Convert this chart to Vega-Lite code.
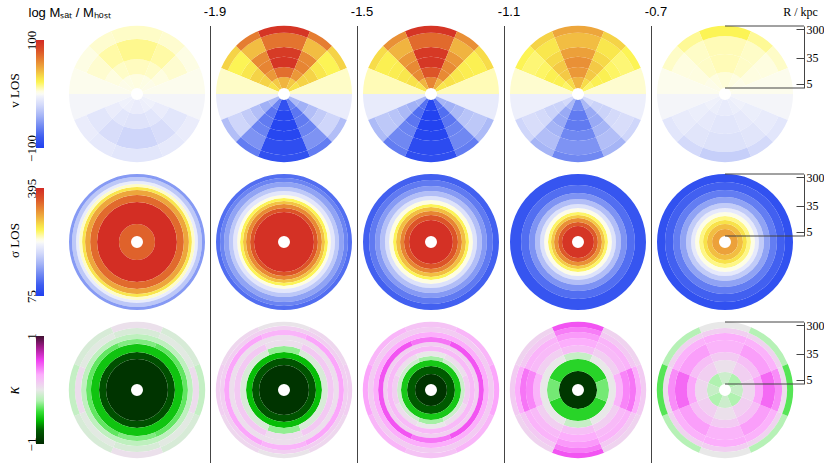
{
"$schema":"https://vega.github.io/schema/vega-lite/v6.json",
"padding":0,
"bounds":"flush",
"spacing":0,
"background":"white",
"config":{"view":{"stroke":null}},
"datasets":{
"vl":[
{"p":"ref","a":-22.5,"b":22.5,"r":3.7,"s":10.5,"v":5},{"p":"ref","a":-22.5,"b":22.5,"r":10.5,"s":32,"v":9},{"p":"ref","a":-22.5,"b":22.5,"r":32,"s":143,"v":15},{"p":"ref","a":-22.5,"b":22.5,"r":143,"s":383,"v":8},
{"p":"ref","a":22.5,"b":45,"r":3.7,"s":10.5,"v":4},{"p":"ref","a":22.5,"b":45,"r":10.5,"s":32,"v":8},{"p":"ref","a":22.5,"b":45,"r":32,"s":143,"v":12},{"p":"ref","a":22.5,"b":45,"r":143,"s":383,"v":7},
{"p":"ref","a":315,"b":337.5,"r":3.7,"s":10.5,"v":4},{"p":"ref","a":315,"b":337.5,"r":10.5,"s":32,"v":8},{"p":"ref","a":315,"b":337.5,"r":32,"s":143,"v":12},{"p":"ref","a":315,"b":337.5,"r":143,"s":383,"v":7},
{"p":"ref","a":45,"b":67.5,"r":3.7,"s":10.5,"v":3},{"p":"ref","a":45,"b":67.5,"r":10.5,"s":32,"v":5},{"p":"ref","a":45,"b":67.5,"r":32,"s":143,"v":7},{"p":"ref","a":45,"b":67.5,"r":143,"s":383,"v":4},
{"p":"ref","a":292.5,"b":315,"r":3.7,"s":10.5,"v":3},{"p":"ref","a":292.5,"b":315,"r":10.5,"s":32,"v":5},{"p":"ref","a":292.5,"b":315,"r":32,"s":143,"v":7},{"p":"ref","a":292.5,"b":315,"r":143,"s":383,"v":4},
{"p":"ref","a":67.5,"b":90,"r":3.7,"s":383,"v":2},{"p":"ref","a":270,"b":292.5,"r":3.7,"s":383,"v":2},
{"p":"ref","a":90,"b":112.5,"r":3.7,"s":383,"v":-3},{"p":"ref","a":247.5,"b":270,"r":3.7,"s":383,"v":-3},
{"p":"ref","a":112.5,"b":135,"r":3.7,"s":10.5,"v":-5},{"p":"ref","a":112.5,"b":135,"r":10.5,"s":32,"v":-8},{"p":"ref","a":112.5,"b":135,"r":32,"s":143,"v":-12},{"p":"ref","a":112.5,"b":135,"r":143,"s":383,"v":-8},
{"p":"ref","a":225,"b":247.5,"r":3.7,"s":10.5,"v":-5},{"p":"ref","a":225,"b":247.5,"r":10.5,"s":32,"v":-8},{"p":"ref","a":225,"b":247.5,"r":32,"s":143,"v":-12},{"p":"ref","a":225,"b":247.5,"r":143,"s":383,"v":-8},
{"p":"ref","a":135,"b":157.5,"r":3.7,"s":10.5,"v":-6},{"p":"ref","a":135,"b":157.5,"r":10.5,"s":32,"v":-12},{"p":"ref","a":135,"b":157.5,"r":32,"s":143,"v":-18},{"p":"ref","a":135,"b":157.5,"r":143,"s":383,"v":-10},
{"p":"ref","a":202.5,"b":225,"r":3.7,"s":10.5,"v":-6},{"p":"ref","a":202.5,"b":225,"r":10.5,"s":32,"v":-12},{"p":"ref","a":202.5,"b":225,"r":32,"s":143,"v":-18},{"p":"ref","a":202.5,"b":225,"r":143,"s":383,"v":-10},
{"p":"ref","a":157.5,"b":202.5,"r":3.7,"s":10.5,"v":-8},{"p":"ref","a":157.5,"b":202.5,"r":10.5,"s":32,"v":-14},{"p":"ref","a":157.5,"b":202.5,"r":32,"s":143,"v":-22},{"p":"ref","a":157.5,"b":202.5,"r":143,"s":383,"v":-12},

{"p":"-1.9","a":-22.5,"b":22.5,"r":3.7,"s":8.4,"v":45},{"p":"-1.9","a":-22.5,"b":22.5,"r":8.4,"s":17.8,"v":70},{"p":"-1.9","a":-22.5,"b":22.5,"r":17.8,"s":37.8,"v":95},{"p":"-1.9","a":-22.5,"b":22.5,"r":37.8,"s":79,"v":92},{"p":"-1.9","a":-22.5,"b":22.5,"r":79,"s":226,"v":68},{"p":"-1.9","a":-22.5,"b":22.5,"r":226,"s":383,"v":95},
{"p":"-1.9","a":22.5,"b":45,"r":3.7,"s":8.4,"v":38},{"p":"-1.9","a":22.5,"b":45,"r":8.4,"s":17.8,"v":55},{"p":"-1.9","a":22.5,"b":45,"r":17.8,"s":37.8,"v":62},{"p":"-1.9","a":22.5,"b":45,"r":37.8,"s":79,"v":60},{"p":"-1.9","a":22.5,"b":45,"r":79,"s":226,"v":42},{"p":"-1.9","a":22.5,"b":45,"r":226,"s":383,"v":65},
{"p":"-1.9","a":315,"b":337.5,"r":3.7,"s":8.4,"v":38},{"p":"-1.9","a":315,"b":337.5,"r":8.4,"s":17.8,"v":55},{"p":"-1.9","a":315,"b":337.5,"r":17.8,"s":37.8,"v":62},{"p":"-1.9","a":315,"b":337.5,"r":37.8,"s":79,"v":60},{"p":"-1.9","a":315,"b":337.5,"r":79,"s":226,"v":42},{"p":"-1.9","a":315,"b":337.5,"r":226,"s":383,"v":65},
{"p":"-1.9","a":45,"b":67.5,"r":3.7,"s":8.4,"v":30},{"p":"-1.9","a":45,"b":67.5,"r":8.4,"s":17.8,"v":35},{"p":"-1.9","a":45,"b":67.5,"r":17.8,"s":37.8,"v":35},{"p":"-1.9","a":45,"b":67.5,"r":37.8,"s":79,"v":28},{"p":"-1.9","a":45,"b":67.5,"r":79,"s":226,"v":22},{"p":"-1.9","a":45,"b":67.5,"r":226,"s":383,"v":35},
{"p":"-1.9","a":292.5,"b":315,"r":3.7,"s":8.4,"v":30},{"p":"-1.9","a":292.5,"b":315,"r":8.4,"s":17.8,"v":35},{"p":"-1.9","a":292.5,"b":315,"r":17.8,"s":37.8,"v":35},{"p":"-1.9","a":292.5,"b":315,"r":37.8,"s":79,"v":28},{"p":"-1.9","a":292.5,"b":315,"r":79,"s":226,"v":22},{"p":"-1.9","a":292.5,"b":315,"r":226,"s":383,"v":35},
{"p":"-1.9","a":67.5,"b":90,"r":3.7,"s":383,"v":8},{"p":"-1.9","a":270,"b":292.5,"r":3.7,"s":383,"v":8},
{"p":"-1.9","a":90,"b":112.5,"r":3.7,"s":383,"v":-8},{"p":"-1.9","a":247.5,"b":270,"r":3.7,"s":383,"v":-8},
{"p":"-1.9","a":112.5,"b":135,"r":3.7,"s":8.4,"v":-38},{"p":"-1.9","a":112.5,"b":135,"r":8.4,"s":17.8,"v":-42},{"p":"-1.9","a":112.5,"b":135,"r":17.8,"s":37.8,"v":-35},{"p":"-1.9","a":112.5,"b":135,"r":37.8,"s":79,"v":-28},{"p":"-1.9","a":112.5,"b":135,"r":79,"s":226,"v":-22},{"p":"-1.9","a":112.5,"b":135,"r":226,"s":383,"v":-35},
{"p":"-1.9","a":225,"b":247.5,"r":3.7,"s":8.4,"v":-38},{"p":"-1.9","a":225,"b":247.5,"r":8.4,"s":17.8,"v":-42},{"p":"-1.9","a":225,"b":247.5,"r":17.8,"s":37.8,"v":-35},{"p":"-1.9","a":225,"b":247.5,"r":37.8,"s":79,"v":-28},{"p":"-1.9","a":225,"b":247.5,"r":79,"s":226,"v":-22},{"p":"-1.9","a":225,"b":247.5,"r":226,"s":383,"v":-35},
{"p":"-1.9","a":135,"b":157.5,"r":3.7,"s":8.4,"v":-62},{"p":"-1.9","a":135,"b":157.5,"r":8.4,"s":17.8,"v":-68},{"p":"-1.9","a":135,"b":157.5,"r":17.8,"s":37.8,"v":-66},{"p":"-1.9","a":135,"b":157.5,"r":37.8,"s":79,"v":-62},{"p":"-1.9","a":135,"b":157.5,"r":79,"s":226,"v":-55},{"p":"-1.9","a":135,"b":157.5,"r":226,"s":383,"v":-65},
{"p":"-1.9","a":202.5,"b":225,"r":3.7,"s":8.4,"v":-62},{"p":"-1.9","a":202.5,"b":225,"r":8.4,"s":17.8,"v":-68},{"p":"-1.9","a":202.5,"b":225,"r":17.8,"s":37.8,"v":-66},{"p":"-1.9","a":202.5,"b":225,"r":37.8,"s":79,"v":-62},{"p":"-1.9","a":202.5,"b":225,"r":79,"s":226,"v":-55},{"p":"-1.9","a":202.5,"b":225,"r":226,"s":383,"v":-65},
{"p":"-1.9","a":157.5,"b":202.5,"r":3.7,"s":8.4,"v":-88},{"p":"-1.9","a":157.5,"b":202.5,"r":8.4,"s":17.8,"v":-95},{"p":"-1.9","a":157.5,"b":202.5,"r":17.8,"s":37.8,"v":-96},{"p":"-1.9","a":157.5,"b":202.5,"r":37.8,"s":79,"v":-95},{"p":"-1.9","a":157.5,"b":202.5,"r":79,"s":226,"v":-90},{"p":"-1.9","a":157.5,"b":202.5,"r":226,"s":383,"v":-88},

{"p":"-1.5","a":-22.5,"b":22.5,"r":3.7,"s":8.4,"v":62},{"p":"-1.5","a":-22.5,"b":22.5,"r":8.4,"s":17.8,"v":80},{"p":"-1.5","a":-22.5,"b":22.5,"r":17.8,"s":37.8,"v":94},{"p":"-1.5","a":-22.5,"b":22.5,"r":37.8,"s":79,"v":93},{"p":"-1.5","a":-22.5,"b":22.5,"r":79,"s":226,"v":72},{"p":"-1.5","a":-22.5,"b":22.5,"r":226,"s":383,"v":95},
{"p":"-1.5","a":22.5,"b":45,"r":3.7,"s":8.4,"v":45},{"p":"-1.5","a":22.5,"b":45,"r":8.4,"s":17.8,"v":60},{"p":"-1.5","a":22.5,"b":45,"r":17.8,"s":37.8,"v":60},{"p":"-1.5","a":22.5,"b":45,"r":37.8,"s":79,"v":55},{"p":"-1.5","a":22.5,"b":45,"r":79,"s":226,"v":45},{"p":"-1.5","a":22.5,"b":45,"r":226,"s":383,"v":58},
{"p":"-1.5","a":315,"b":337.5,"r":3.7,"s":8.4,"v":45},{"p":"-1.5","a":315,"b":337.5,"r":8.4,"s":17.8,"v":60},{"p":"-1.5","a":315,"b":337.5,"r":17.8,"s":37.8,"v":60},{"p":"-1.5","a":315,"b":337.5,"r":37.8,"s":79,"v":55},{"p":"-1.5","a":315,"b":337.5,"r":79,"s":226,"v":45},{"p":"-1.5","a":315,"b":337.5,"r":226,"s":383,"v":58},
{"p":"-1.5","a":45,"b":67.5,"r":3.7,"s":8.4,"v":28},{"p":"-1.5","a":45,"b":67.5,"r":8.4,"s":17.8,"v":30},{"p":"-1.5","a":45,"b":67.5,"r":17.8,"s":37.8,"v":28},{"p":"-1.5","a":45,"b":67.5,"r":37.8,"s":79,"v":25},{"p":"-1.5","a":45,"b":67.5,"r":79,"s":226,"v":24},{"p":"-1.5","a":45,"b":67.5,"r":226,"s":383,"v":32},
{"p":"-1.5","a":292.5,"b":315,"r":3.7,"s":8.4,"v":28},{"p":"-1.5","a":292.5,"b":315,"r":8.4,"s":17.8,"v":30},{"p":"-1.5","a":292.5,"b":315,"r":17.8,"s":37.8,"v":28},{"p":"-1.5","a":292.5,"b":315,"r":37.8,"s":79,"v":25},{"p":"-1.5","a":292.5,"b":315,"r":79,"s":226,"v":24},{"p":"-1.5","a":292.5,"b":315,"r":226,"s":383,"v":32},
{"p":"-1.5","a":67.5,"b":90,"r":3.7,"s":383,"v":10},{"p":"-1.5","a":270,"b":292.5,"r":3.7,"s":383,"v":10},
{"p":"-1.5","a":90,"b":112.5,"r":3.7,"s":383,"v":-9},{"p":"-1.5","a":247.5,"b":270,"r":3.7,"s":383,"v":-9},
{"p":"-1.5","a":112.5,"b":135,"r":3.7,"s":8.4,"v":-40},{"p":"-1.5","a":112.5,"b":135,"r":8.4,"s":17.8,"v":-42},{"p":"-1.5","a":112.5,"b":135,"r":17.8,"s":37.8,"v":-38},{"p":"-1.5","a":112.5,"b":135,"r":37.8,"s":79,"v":-32},{"p":"-1.5","a":112.5,"b":135,"r":79,"s":226,"v":-30},{"p":"-1.5","a":112.5,"b":135,"r":226,"s":383,"v":-37},
{"p":"-1.5","a":225,"b":247.5,"r":3.7,"s":8.4,"v":-40},{"p":"-1.5","a":225,"b":247.5,"r":8.4,"s":17.8,"v":-42},{"p":"-1.5","a":225,"b":247.5,"r":17.8,"s":37.8,"v":-38},{"p":"-1.5","a":225,"b":247.5,"r":37.8,"s":79,"v":-32},{"p":"-1.5","a":225,"b":247.5,"r":79,"s":226,"v":-30},{"p":"-1.5","a":225,"b":247.5,"r":226,"s":383,"v":-37},
{"p":"-1.5","a":135,"b":157.5,"r":3.7,"s":8.4,"v":-70},{"p":"-1.5","a":135,"b":157.5,"r":8.4,"s":17.8,"v":-72},{"p":"-1.5","a":135,"b":157.5,"r":17.8,"s":37.8,"v":-68},{"p":"-1.5","a":135,"b":157.5,"r":37.8,"s":79,"v":-62},{"p":"-1.5","a":135,"b":157.5,"r":79,"s":226,"v":-60},{"p":"-1.5","a":135,"b":157.5,"r":226,"s":383,"v":-65},
{"p":"-1.5","a":202.5,"b":225,"r":3.7,"s":8.4,"v":-70},{"p":"-1.5","a":202.5,"b":225,"r":8.4,"s":17.8,"v":-72},{"p":"-1.5","a":202.5,"b":225,"r":17.8,"s":37.8,"v":-68},{"p":"-1.5","a":202.5,"b":225,"r":37.8,"s":79,"v":-62},{"p":"-1.5","a":202.5,"b":225,"r":79,"s":226,"v":-60},{"p":"-1.5","a":202.5,"b":225,"r":226,"s":383,"v":-65},
{"p":"-1.5","a":157.5,"b":202.5,"r":3.7,"s":8.4,"v":-95},{"p":"-1.5","a":157.5,"b":202.5,"r":8.4,"s":17.8,"v":-98},{"p":"-1.5","a":157.5,"b":202.5,"r":17.8,"s":37.8,"v":-98},{"p":"-1.5","a":157.5,"b":202.5,"r":37.8,"s":79,"v":-96},{"p":"-1.5","a":157.5,"b":202.5,"r":79,"s":226,"v":-92},{"p":"-1.5","a":157.5,"b":202.5,"r":226,"s":383,"v":-90},

{"p":"-1.1","a":-22.5,"b":22.5,"r":3.7,"s":8.4,"v":45},{"p":"-1.1","a":-22.5,"b":22.5,"r":8.4,"s":17.8,"v":55},{"p":"-1.1","a":-22.5,"b":22.5,"r":17.8,"s":37.8,"v":58},{"p":"-1.1","a":-22.5,"b":22.5,"r":37.8,"s":79,"v":52},{"p":"-1.1","a":-22.5,"b":22.5,"r":79,"s":226,"v":42},{"p":"-1.1","a":-22.5,"b":22.5,"r":226,"s":383,"v":50},
{"p":"-1.1","a":22.5,"b":45,"r":3.7,"s":8.4,"v":32},{"p":"-1.1","a":22.5,"b":45,"r":8.4,"s":17.8,"v":38},{"p":"-1.1","a":22.5,"b":45,"r":17.8,"s":37.8,"v":38},{"p":"-1.1","a":22.5,"b":45,"r":37.8,"s":79,"v":33},{"p":"-1.1","a":22.5,"b":45,"r":79,"s":226,"v":28},{"p":"-1.1","a":22.5,"b":45,"r":226,"s":383,"v":35},
{"p":"-1.1","a":315,"b":337.5,"r":3.7,"s":8.4,"v":32},{"p":"-1.1","a":315,"b":337.5,"r":8.4,"s":17.8,"v":38},{"p":"-1.1","a":315,"b":337.5,"r":17.8,"s":37.8,"v":38},{"p":"-1.1","a":315,"b":337.5,"r":37.8,"s":79,"v":33},{"p":"-1.1","a":315,"b":337.5,"r":79,"s":226,"v":28},{"p":"-1.1","a":315,"b":337.5,"r":226,"s":383,"v":35},
{"p":"-1.1","a":45,"b":67.5,"r":3.7,"s":8.4,"v":20},{"p":"-1.1","a":45,"b":67.5,"r":8.4,"s":17.8,"v":24},{"p":"-1.1","a":45,"b":67.5,"r":17.8,"s":37.8,"v":24},{"p":"-1.1","a":45,"b":67.5,"r":37.8,"s":79,"v":20},{"p":"-1.1","a":45,"b":67.5,"r":79,"s":226,"v":18},{"p":"-1.1","a":45,"b":67.5,"r":226,"s":383,"v":22},
{"p":"-1.1","a":292.5,"b":315,"r":3.7,"s":8.4,"v":20},{"p":"-1.1","a":292.5,"b":315,"r":8.4,"s":17.8,"v":24},{"p":"-1.1","a":292.5,"b":315,"r":17.8,"s":37.8,"v":24},{"p":"-1.1","a":292.5,"b":315,"r":37.8,"s":79,"v":20},{"p":"-1.1","a":292.5,"b":315,"r":79,"s":226,"v":18},{"p":"-1.1","a":292.5,"b":315,"r":226,"s":383,"v":22},
{"p":"-1.1","a":67.5,"b":90,"r":3.7,"s":383,"v":7},{"p":"-1.1","a":270,"b":292.5,"r":3.7,"s":383,"v":7},
{"p":"-1.1","a":90,"b":112.5,"r":3.7,"s":383,"v":-6},{"p":"-1.1","a":247.5,"b":270,"r":3.7,"s":383,"v":-6},
{"p":"-1.1","a":112.5,"b":135,"r":3.7,"s":8.4,"v":-20},{"p":"-1.1","a":112.5,"b":135,"r":8.4,"s":17.8,"v":-24},{"p":"-1.1","a":112.5,"b":135,"r":17.8,"s":37.8,"v":-24},{"p":"-1.1","a":112.5,"b":135,"r":37.8,"s":79,"v":-20},{"p":"-1.1","a":112.5,"b":135,"r":79,"s":226,"v":-18},{"p":"-1.1","a":112.5,"b":135,"r":226,"s":383,"v":-22},
{"p":"-1.1","a":225,"b":247.5,"r":3.7,"s":8.4,"v":-20},{"p":"-1.1","a":225,"b":247.5,"r":8.4,"s":17.8,"v":-24},{"p":"-1.1","a":225,"b":247.5,"r":17.8,"s":37.8,"v":-24},{"p":"-1.1","a":225,"b":247.5,"r":37.8,"s":79,"v":-20},{"p":"-1.1","a":225,"b":247.5,"r":79,"s":226,"v":-18},{"p":"-1.1","a":225,"b":247.5,"r":226,"s":383,"v":-22},
{"p":"-1.1","a":135,"b":157.5,"r":3.7,"s":8.4,"v":-38},{"p":"-1.1","a":135,"b":157.5,"r":8.4,"s":17.8,"v":-45},{"p":"-1.1","a":135,"b":157.5,"r":17.8,"s":37.8,"v":-45},{"p":"-1.1","a":135,"b":157.5,"r":37.8,"s":79,"v":-40},{"p":"-1.1","a":135,"b":157.5,"r":79,"s":226,"v":-35},{"p":"-1.1","a":135,"b":157.5,"r":226,"s":383,"v":-40},
{"p":"-1.1","a":202.5,"b":225,"r":3.7,"s":8.4,"v":-38},{"p":"-1.1","a":202.5,"b":225,"r":8.4,"s":17.8,"v":-45},{"p":"-1.1","a":202.5,"b":225,"r":17.8,"s":37.8,"v":-45},{"p":"-1.1","a":202.5,"b":225,"r":37.8,"s":79,"v":-40},{"p":"-1.1","a":202.5,"b":225,"r":79,"s":226,"v":-35},{"p":"-1.1","a":202.5,"b":225,"r":226,"s":383,"v":-40},
{"p":"-1.1","a":157.5,"b":202.5,"r":3.7,"s":8.4,"v":-58},{"p":"-1.1","a":157.5,"b":202.5,"r":8.4,"s":17.8,"v":-66},{"p":"-1.1","a":157.5,"b":202.5,"r":17.8,"s":37.8,"v":-66},{"p":"-1.1","a":157.5,"b":202.5,"r":37.8,"s":79,"v":-60},{"p":"-1.1","a":157.5,"b":202.5,"r":79,"s":226,"v":-55},{"p":"-1.1","a":157.5,"b":202.5,"r":226,"s":383,"v":-60},

{"p":"-0.7","a":-22.5,"b":22.5,"r":3.7,"s":12.2,"v":6},{"p":"-0.7","a":-22.5,"b":22.5,"r":12.2,"s":47,"v":10},{"p":"-0.7","a":-22.5,"b":22.5,"r":47,"s":180,"v":10},{"p":"-0.7","a":-22.5,"b":22.5,"r":180,"s":383,"v":22},
{"p":"-0.7","a":22.5,"b":45,"r":3.7,"s":12.2,"v":5},{"p":"-0.7","a":22.5,"b":45,"r":12.2,"s":47,"v":8},{"p":"-0.7","a":22.5,"b":45,"r":47,"s":180,"v":8},{"p":"-0.7","a":22.5,"b":45,"r":180,"s":383,"v":14},
{"p":"-0.7","a":315,"b":337.5,"r":3.7,"s":12.2,"v":5},{"p":"-0.7","a":315,"b":337.5,"r":12.2,"s":47,"v":8},{"p":"-0.7","a":315,"b":337.5,"r":47,"s":180,"v":8},{"p":"-0.7","a":315,"b":337.5,"r":180,"s":383,"v":14},
{"p":"-0.7","a":45,"b":67.5,"r":3.7,"s":12.2,"v":3},{"p":"-0.7","a":45,"b":67.5,"r":12.2,"s":47,"v":5},{"p":"-0.7","a":45,"b":67.5,"r":47,"s":180,"v":5},{"p":"-0.7","a":45,"b":67.5,"r":180,"s":383,"v":8},
{"p":"-0.7","a":292.5,"b":315,"r":3.7,"s":12.2,"v":3},{"p":"-0.7","a":292.5,"b":315,"r":12.2,"s":47,"v":5},{"p":"-0.7","a":292.5,"b":315,"r":47,"s":180,"v":5},{"p":"-0.7","a":292.5,"b":315,"r":180,"s":383,"v":8},
{"p":"-0.7","a":67.5,"b":90,"r":3.7,"s":383,"v":2},{"p":"-0.7","a":270,"b":292.5,"r":3.7,"s":383,"v":2},
{"p":"-0.7","a":90,"b":112.5,"r":3.7,"s":383,"v":-3},{"p":"-0.7","a":247.5,"b":270,"r":3.7,"s":383,"v":-3},
{"p":"-0.7","a":112.5,"b":135,"r":3.7,"s":12.2,"v":-5},{"p":"-0.7","a":112.5,"b":135,"r":12.2,"s":47,"v":-7},{"p":"-0.7","a":112.5,"b":135,"r":47,"s":180,"v":-9},{"p":"-0.7","a":112.5,"b":135,"r":180,"s":383,"v":-12},
{"p":"-0.7","a":225,"b":247.5,"r":3.7,"s":12.2,"v":-5},{"p":"-0.7","a":225,"b":247.5,"r":12.2,"s":47,"v":-7},{"p":"-0.7","a":225,"b":247.5,"r":47,"s":180,"v":-9},{"p":"-0.7","a":225,"b":247.5,"r":180,"s":383,"v":-12},
{"p":"-0.7","a":135,"b":157.5,"r":3.7,"s":12.2,"v":-7},{"p":"-0.7","a":135,"b":157.5,"r":12.2,"s":47,"v":-10},{"p":"-0.7","a":135,"b":157.5,"r":47,"s":180,"v":-13},{"p":"-0.7","a":135,"b":157.5,"r":180,"s":383,"v":-20},
{"p":"-0.7","a":202.5,"b":225,"r":3.7,"s":12.2,"v":-7},{"p":"-0.7","a":202.5,"b":225,"r":12.2,"s":47,"v":-10},{"p":"-0.7","a":202.5,"b":225,"r":47,"s":180,"v":-13},{"p":"-0.7","a":202.5,"b":225,"r":180,"s":383,"v":-20},
{"p":"-0.7","a":157.5,"b":202.5,"r":3.7,"s":12.2,"v":-9},{"p":"-0.7","a":157.5,"b":202.5,"r":12.2,"s":47,"v":-12},{"p":"-0.7","a":157.5,"b":202.5,"r":47,"s":180,"v":-15},{"p":"-0.7","a":157.5,"b":202.5,"r":180,"s":383,"v":-26}
],
"sg":[
{"p":"ref","a":0,"b":360,"r":3.7,"s":9.1,"v":355},{"p":"ref","a":0,"b":360,"r":9.1,"s":47,"v":392},{"p":"ref","a":0,"b":360,"r":47,"s":79,"v":350},{"p":"ref","a":0,"b":360,"r":79,"s":115,"v":315},{"p":"ref","a":0,"b":360,"r":115,"s":144,"v":280},{"p":"ref","a":0,"b":360,"r":144,"s":180,"v":248},{"p":"ref","a":0,"b":360,"r":180,"s":226,"v":222},{"p":"ref","a":0,"b":360,"r":226,"s":305,"v":187},{"p":"ref","a":0,"b":360,"r":305,"s":383,"v":152},
{"p":"-1.9","a":0,"b":360,"r":3.7,"s":22.3,"v":390},{"p":"-1.9","a":0,"b":360,"r":22.3,"s":30,"v":363},{"p":"-1.9","a":0,"b":360,"r":30,"s":40.5,"v":331},{"p":"-1.9","a":0,"b":360,"r":40.5,"s":50.8,"v":299},{"p":"-1.9","a":0,"b":360,"r":50.8,"s":63.4,"v":270},{"p":"-1.9","a":0,"b":360,"r":63.4,"s":79,"v":243},{"p":"-1.9","a":0,"b":360,"r":79,"s":107,"v":216},{"p":"-1.9","a":0,"b":360,"r":107,"s":144,"v":187},{"p":"-1.9","a":0,"b":360,"r":144,"s":210,"v":158},{"p":"-1.9","a":0,"b":360,"r":210,"s":283,"v":136},{"p":"-1.9","a":0,"b":360,"r":283,"s":383,"v":120},
{"p":"-1.5","a":0,"b":360,"r":3.7,"s":12.2,"v":390},{"p":"-1.5","a":0,"b":360,"r":12.2,"s":17.8,"v":363},{"p":"-1.5","a":0,"b":360,"r":17.8,"s":24,"v":334},{"p":"-1.5","a":0,"b":360,"r":24,"s":32.4,"v":302},{"p":"-1.5","a":0,"b":360,"r":32.4,"s":40.5,"v":270},{"p":"-1.5","a":0,"b":360,"r":40.5,"s":54.6,"v":243},{"p":"-1.5","a":0,"b":360,"r":54.6,"s":74,"v":211},{"p":"-1.5","a":0,"b":360,"r":74,"s":107,"v":179},{"p":"-1.5","a":0,"b":360,"r":107,"s":155,"v":152},{"p":"-1.5","a":0,"b":360,"r":155,"s":243,"v":129},{"p":"-1.5","a":0,"b":360,"r":243,"s":383,"v":110},
{"p":"-1.1","a":0,"b":360,"r":3.7,"s":7.8,"v":387},{"p":"-1.1","a":0,"b":360,"r":7.8,"s":10.5,"v":360},{"p":"-1.1","a":0,"b":360,"r":10.5,"s":14.2,"v":328},{"p":"-1.1","a":0,"b":360,"r":14.2,"s":17.8,"v":296},{"p":"-1.1","a":0,"b":360,"r":17.8,"s":22.3,"v":267},{"p":"-1.1","a":0,"b":360,"r":22.3,"s":30,"v":240},{"p":"-1.1","a":0,"b":360,"r":30,"s":40.5,"v":211},{"p":"-1.1","a":0,"b":360,"r":40.5,"s":59,"v":179},{"p":"-1.1","a":0,"b":360,"r":59,"s":92,"v":147},{"p":"-1.1","a":0,"b":360,"r":92,"s":167,"v":120},{"p":"-1.1","a":0,"b":360,"r":167,"s":383,"v":99},
{"p":"-0.7","a":0,"b":360,"r":3.7,"s":6.2,"v":318},{"p":"-0.7","a":0,"b":360,"r":6.2,"s":9.1,"v":302},{"p":"-0.7","a":0,"b":360,"r":9.1,"s":12.2,"v":283},{"p":"-0.7","a":0,"b":360,"r":12.2,"s":16.5,"v":261},{"p":"-0.7","a":0,"b":360,"r":16.5,"s":22.3,"v":241},{"p":"-0.7","a":0,"b":360,"r":22.3,"s":30,"v":219},{"p":"-0.7","a":0,"b":360,"r":30,"s":43.6,"v":190},{"p":"-0.7","a":0,"b":360,"r":43.6,"s":68,"v":158},{"p":"-0.7","a":0,"b":360,"r":68,"s":115,"v":131},{"p":"-0.7","a":0,"b":360,"r":115,"s":210,"v":110},{"p":"-0.7","a":0,"b":360,"r":210,"s":383,"v":94}
],
"kp":[
{"p":"ref","a":0,"b":360,"r":3.7,"s":24,"v":-0.95},{"p":"ref","a":0,"b":360,"r":24,"s":40.5,"v":-0.8},{"p":"ref","a":0,"b":360,"r":40.5,"s":74,"v":-0.52},
{"p":"ref","a":-22.5,"b":22.5,"r":74,"s":107,"v":-0.28},{"p":"ref","a":157.5,"b":202.5,"r":74,"s":107,"v":-0.28},{"p":"ref","a":22.5,"b":157.5,"r":74,"s":107,"v":-0.33},{"p":"ref","a":202.5,"b":337.5,"r":74,"s":107,"v":-0.33},
{"p":"ref","a":0,"b":360,"r":107,"s":155,"v":-0.15},
{"p":"ref","a":-22.5,"b":22.5,"r":155,"s":243,"v":-0.06},{"p":"ref","a":157.5,"b":202.5,"r":155,"s":243,"v":-0.06},{"p":"ref","a":22.5,"b":67.5,"r":155,"s":243,"v":-0.02},{"p":"ref","a":112.5,"b":157.5,"r":155,"s":243,"v":-0.02},{"p":"ref","a":202.5,"b":247.5,"r":155,"s":243,"v":-0.02},{"p":"ref","a":292.5,"b":337.5,"r":155,"s":243,"v":-0.02},{"p":"ref","a":67.5,"b":112.5,"r":155,"s":243,"v":0.06},{"p":"ref","a":247.5,"b":292.5,"r":155,"s":243,"v":0.06},
{"p":"ref","a":-22.5,"b":22.5,"r":243,"s":383,"v":0.04},{"p":"ref","a":157.5,"b":202.5,"r":243,"s":383,"v":0.04},{"p":"ref","a":22.5,"b":67.5,"r":243,"s":383,"v":-0.06},{"p":"ref","a":112.5,"b":157.5,"r":243,"s":383,"v":-0.06},{"p":"ref","a":202.5,"b":247.5,"r":243,"s":383,"v":-0.06},{"p":"ref","a":292.5,"b":337.5,"r":243,"s":383,"v":-0.06},{"p":"ref","a":67.5,"b":112.5,"r":243,"s":383,"v":-0.13},{"p":"ref","a":247.5,"b":292.5,"r":243,"s":383,"v":-0.13},

{"p":"-1.9","a":0,"b":360,"r":3.7,"s":15.3,"v":-0.95},{"p":"-1.9","a":0,"b":360,"r":15.3,"s":25.9,"v":-0.78},{"p":"-1.9","a":0,"b":360,"r":25.9,"s":40.5,"v":-0.55},
{"p":"-1.9","a":-22.5,"b":22.5,"r":40.5,"s":63.4,"v":-0.25},{"p":"-1.9","a":157.5,"b":202.5,"r":40.5,"s":63.4,"v":-0.25},{"p":"-1.9","a":22.5,"b":157.5,"r":40.5,"s":63.4,"v":-0.06},{"p":"-1.9","a":202.5,"b":337.5,"r":40.5,"s":63.4,"v":-0.06},
{"p":"-1.9","a":-22.5,"b":22.5,"r":63.4,"s":99,"v":0.05},{"p":"-1.9","a":157.5,"b":202.5,"r":63.4,"s":99,"v":0.05},{"p":"-1.9","a":22.5,"b":157.5,"r":63.4,"s":99,"v":0.15},{"p":"-1.9","a":202.5,"b":337.5,"r":63.4,"s":99,"v":0.15},
{"p":"-1.9","a":0,"b":360,"r":99,"s":144,"v":0.05},
{"p":"-1.9","a":-22.5,"b":22.5,"r":144,"s":210,"v":0.25},{"p":"-1.9","a":157.5,"b":202.5,"r":144,"s":210,"v":0.25},{"p":"-1.9","a":22.5,"b":157.5,"r":144,"s":210,"v":0.3},{"p":"-1.9","a":202.5,"b":337.5,"r":144,"s":210,"v":0.3},
{"p":"-1.9","a":0,"b":360,"r":210,"s":283,"v":0.12},
{"p":"-1.9","a":-22.5,"b":22.5,"r":283,"s":383,"v":0.02},{"p":"-1.9","a":157.5,"b":202.5,"r":283,"s":383,"v":0.02},{"p":"-1.9","a":22.5,"b":67.5,"r":283,"s":383,"v":0.08},{"p":"-1.9","a":112.5,"b":157.5,"r":283,"s":383,"v":0.08},{"p":"-1.9","a":202.5,"b":247.5,"r":283,"s":383,"v":0.08},{"p":"-1.9","a":292.5,"b":337.5,"r":283,"s":383,"v":0.08},{"p":"-1.9","a":67.5,"b":112.5,"r":283,"s":383,"v":0.12},{"p":"-1.9","a":247.5,"b":292.5,"r":283,"s":383,"v":0.12},

{"p":"-1.5","a":0,"b":360,"r":3.7,"s":7.8,"v":-0.95},{"p":"-1.5","a":0,"b":360,"r":7.8,"s":14.2,"v":-0.75},{"p":"-1.5","a":0,"b":360,"r":14.2,"s":22.3,"v":-0.5},
{"p":"-1.5","a":-22.5,"b":22.5,"r":22.3,"s":30,"v":-0.22},{"p":"-1.5","a":157.5,"b":202.5,"r":22.3,"s":30,"v":-0.22},{"p":"-1.5","a":22.5,"b":157.5,"r":22.3,"s":30,"v":-0.1},{"p":"-1.5","a":202.5,"b":337.5,"r":22.3,"s":30,"v":-0.1},
{"p":"-1.5","a":-22.5,"b":22.5,"r":30,"s":43.6,"v":0},{"p":"-1.5","a":157.5,"b":202.5,"r":30,"s":43.6,"v":0},{"p":"-1.5","a":22.5,"b":67.5,"r":30,"s":43.6,"v":0.05},{"p":"-1.5","a":112.5,"b":157.5,"r":30,"s":43.6,"v":0.05},{"p":"-1.5","a":202.5,"b":247.5,"r":30,"s":43.6,"v":0.05},{"p":"-1.5","a":292.5,"b":337.5,"r":30,"s":43.6,"v":0.05},{"p":"-1.5","a":67.5,"b":112.5,"r":30,"s":43.6,"v":0.12},{"p":"-1.5","a":247.5,"b":292.5,"r":30,"s":43.6,"v":0.12},
{"p":"-1.5","a":0,"b":360,"r":43.6,"s":63.4,"v":0.22},{"p":"-1.5","a":0,"b":360,"r":63.4,"s":85.5,"v":0.12},
{"p":"-1.5","a":-22.5,"b":22.5,"r":85.5,"s":124,"v":0.42},{"p":"-1.5","a":157.5,"b":202.5,"r":85.5,"s":124,"v":0.42},{"p":"-1.5","a":22.5,"b":157.5,"r":85.5,"s":124,"v":0.5},{"p":"-1.5","a":202.5,"b":337.5,"r":85.5,"s":124,"v":0.5},
{"p":"-1.5","a":0,"b":360,"r":124,"s":180,"v":0.28},{"p":"-1.5","a":0,"b":360,"r":180,"s":262,"v":0.14},
{"p":"-1.5","a":-22.5,"b":22.5,"r":262,"s":383,"v":0.18},{"p":"-1.5","a":157.5,"b":202.5,"r":262,"s":383,"v":0.18},{"p":"-1.5","a":22.5,"b":67.5,"r":262,"s":383,"v":0.24},{"p":"-1.5","a":112.5,"b":157.5,"r":262,"s":383,"v":0.24},{"p":"-1.5","a":202.5,"b":247.5,"r":262,"s":383,"v":0.24},{"p":"-1.5","a":292.5,"b":337.5,"r":262,"s":383,"v":0.24},{"p":"-1.5","a":67.5,"b":112.5,"r":262,"s":383,"v":0.3},{"p":"-1.5","a":247.5,"b":292.5,"r":262,"s":383,"v":0.3},

{"p":"-1.1","a":0,"b":360,"r":3.7,"s":9.8,"v":-0.93},
{"p":"-1.1","a":-67.5,"b":67.5,"r":9.8,"s":24,"v":-0.45},{"p":"-1.1","a":112.5,"b":247.5,"r":9.8,"s":24,"v":-0.45},{"p":"-1.1","a":67.5,"b":112.5,"r":9.8,"s":24,"v":-0.3},{"p":"-1.1","a":247.5,"b":292.5,"r":9.8,"s":24,"v":-0.3},
{"p":"-1.1","a":-22.5,"b":22.5,"r":24,"s":40.5,"v":-0.12},{"p":"-1.1","a":157.5,"b":202.5,"r":24,"s":40.5,"v":-0.12},{"p":"-1.1","a":22.5,"b":157.5,"r":24,"s":40.5,"v":0},{"p":"-1.1","a":202.5,"b":337.5,"r":24,"s":40.5,"v":0},
{"p":"-1.1","a":-22.5,"b":22.5,"r":40.5,"s":68,"v":0.2},{"p":"-1.1","a":157.5,"b":202.5,"r":40.5,"s":68,"v":0.2},{"p":"-1.1","a":22.5,"b":67.5,"r":40.5,"s":68,"v":0.12},{"p":"-1.1","a":112.5,"b":157.5,"r":40.5,"s":68,"v":0.12},{"p":"-1.1","a":202.5,"b":247.5,"r":40.5,"s":68,"v":0.12},{"p":"-1.1","a":292.5,"b":337.5,"r":40.5,"s":68,"v":0.12},{"p":"-1.1","a":67.5,"b":112.5,"r":40.5,"s":68,"v":0.25},{"p":"-1.1","a":247.5,"b":292.5,"r":40.5,"s":68,"v":0.25},
{"p":"-1.1","a":-22.5,"b":22.5,"r":68,"s":115,"v":0.28},{"p":"-1.1","a":157.5,"b":202.5,"r":68,"s":115,"v":0.28},{"p":"-1.1","a":22.5,"b":67.5,"r":68,"s":115,"v":0.22},{"p":"-1.1","a":112.5,"b":157.5,"r":68,"s":115,"v":0.22},{"p":"-1.1","a":202.5,"b":247.5,"r":68,"s":115,"v":0.22},{"p":"-1.1","a":292.5,"b":337.5,"r":68,"s":115,"v":0.22},{"p":"-1.1","a":67.5,"b":112.5,"r":68,"s":115,"v":0.38},{"p":"-1.1","a":247.5,"b":292.5,"r":68,"s":115,"v":0.38},
{"p":"-1.1","a":-22.5,"b":22.5,"r":115,"s":180,"v":0.33},{"p":"-1.1","a":157.5,"b":202.5,"r":115,"s":180,"v":0.33},{"p":"-1.1","a":22.5,"b":67.5,"r":115,"s":180,"v":0.25},{"p":"-1.1","a":112.5,"b":157.5,"r":115,"s":180,"v":0.25},{"p":"-1.1","a":202.5,"b":247.5,"r":115,"s":180,"v":0.25},{"p":"-1.1","a":292.5,"b":337.5,"r":115,"s":180,"v":0.25},{"p":"-1.1","a":67.5,"b":112.5,"r":115,"s":180,"v":0.42},{"p":"-1.1","a":247.5,"b":292.5,"r":115,"s":180,"v":0.42},
{"p":"-1.1","a":-22.5,"b":22.5,"r":180,"s":262,"v":0.4},{"p":"-1.1","a":157.5,"b":202.5,"r":180,"s":262,"v":0.4},{"p":"-1.1","a":22.5,"b":67.5,"r":180,"s":262,"v":0.15},{"p":"-1.1","a":112.5,"b":157.5,"r":180,"s":262,"v":0.15},{"p":"-1.1","a":202.5,"b":247.5,"r":180,"s":262,"v":0.15},{"p":"-1.1","a":292.5,"b":337.5,"r":180,"s":262,"v":0.15},{"p":"-1.1","a":67.5,"b":112.5,"r":180,"s":262,"v":0.28},{"p":"-1.1","a":247.5,"b":292.5,"r":180,"s":262,"v":0.28},
{"p":"-1.1","a":-22.5,"b":22.5,"r":262,"s":383,"v":0.5},{"p":"-1.1","a":157.5,"b":202.5,"r":262,"s":383,"v":0.5},{"p":"-1.1","a":22.5,"b":67.5,"r":262,"s":383,"v":0.1},{"p":"-1.1","a":112.5,"b":157.5,"r":262,"s":383,"v":0.1},{"p":"-1.1","a":202.5,"b":247.5,"r":262,"s":383,"v":0.1},{"p":"-1.1","a":292.5,"b":337.5,"r":262,"s":383,"v":0.1},{"p":"-1.1","a":67.5,"b":112.5,"r":262,"s":383,"v":0.14},{"p":"-1.1","a":247.5,"b":292.5,"r":262,"s":383,"v":0.14},

{"p":"-0.7","a":-22.5,"b":22.5,"r":3.7,"s":9.1,"v":-0.1},{"p":"-0.7","a":157.5,"b":202.5,"r":3.7,"s":9.1,"v":-0.1},{"p":"-0.7","a":22.5,"b":67.5,"r":3.7,"s":9.1,"v":-0.2},{"p":"-0.7","a":112.5,"b":157.5,"r":3.7,"s":9.1,"v":-0.2},{"p":"-0.7","a":202.5,"b":247.5,"r":3.7,"s":9.1,"v":-0.2},{"p":"-0.7","a":292.5,"b":337.5,"r":3.7,"s":9.1,"v":-0.2},{"p":"-0.7","a":67.5,"b":112.5,"r":3.7,"s":9.1,"v":-0.12},{"p":"-0.7","a":247.5,"b":292.5,"r":3.7,"s":9.1,"v":-0.12},
{"p":"-0.7","a":-22.5,"b":22.5,"r":9.1,"s":22.3,"v":0.04},{"p":"-0.7","a":157.5,"b":202.5,"r":9.1,"s":22.3,"v":0.04},{"p":"-0.7","a":22.5,"b":67.5,"r":9.1,"s":22.3,"v":0.12},{"p":"-0.7","a":112.5,"b":157.5,"r":9.1,"s":22.3,"v":0.12},{"p":"-0.7","a":202.5,"b":247.5,"r":9.1,"s":22.3,"v":0.12},{"p":"-0.7","a":292.5,"b":337.5,"r":9.1,"s":22.3,"v":0.12},{"p":"-0.7","a":67.5,"b":112.5,"r":9.1,"s":22.3,"v":0.08},{"p":"-0.7","a":247.5,"b":292.5,"r":9.1,"s":22.3,"v":0.08},
{"p":"-0.7","a":-22.5,"b":22.5,"r":22.3,"s":40.5,"v":0.14},{"p":"-0.7","a":157.5,"b":202.5,"r":22.3,"s":40.5,"v":0.14},{"p":"-0.7","a":22.5,"b":67.5,"r":22.3,"s":40.5,"v":0.2},{"p":"-0.7","a":112.5,"b":157.5,"r":22.3,"s":40.5,"v":0.2},{"p":"-0.7","a":202.5,"b":247.5,"r":22.3,"s":40.5,"v":0.2},{"p":"-0.7","a":292.5,"b":337.5,"r":22.3,"s":40.5,"v":0.2},{"p":"-0.7","a":67.5,"b":112.5,"r":22.3,"s":40.5,"v":0.3},{"p":"-0.7","a":247.5,"b":292.5,"r":22.3,"s":40.5,"v":0.3},
{"p":"-0.7","a":-22.5,"b":22.5,"r":40.5,"s":99,"v":0.25},{"p":"-0.7","a":157.5,"b":202.5,"r":40.5,"s":99,"v":0.25},{"p":"-0.7","a":22.5,"b":67.5,"r":40.5,"s":99,"v":0.32},{"p":"-0.7","a":112.5,"b":157.5,"r":40.5,"s":99,"v":0.32},{"p":"-0.7","a":202.5,"b":247.5,"r":40.5,"s":99,"v":0.32},{"p":"-0.7","a":292.5,"b":337.5,"r":40.5,"s":99,"v":0.32},{"p":"-0.7","a":67.5,"b":112.5,"r":40.5,"s":99,"v":0.45},{"p":"-0.7","a":247.5,"b":292.5,"r":40.5,"s":99,"v":0.45},
{"p":"-0.7","a":-22.5,"b":22.5,"r":99,"s":167,"v":0.28},{"p":"-0.7","a":157.5,"b":202.5,"r":99,"s":167,"v":0.28},{"p":"-0.7","a":22.5,"b":67.5,"r":99,"s":167,"v":0.26},{"p":"-0.7","a":112.5,"b":157.5,"r":99,"s":167,"v":0.26},{"p":"-0.7","a":202.5,"b":247.5,"r":99,"s":167,"v":0.26},{"p":"-0.7","a":292.5,"b":337.5,"r":99,"s":167,"v":0.26},{"p":"-0.7","a":67.5,"b":112.5,"r":99,"s":167,"v":0.36},{"p":"-0.7","a":247.5,"b":292.5,"r":99,"s":167,"v":0.36},
{"p":"-0.7","a":-22.5,"b":22.5,"r":167,"s":243,"v":0.12},{"p":"-0.7","a":157.5,"b":202.5,"r":167,"s":243,"v":0.12},{"p":"-0.7","a":22.5,"b":67.5,"r":167,"s":243,"v":0.1},{"p":"-0.7","a":112.5,"b":157.5,"r":167,"s":243,"v":0.1},{"p":"-0.7","a":202.5,"b":247.5,"r":167,"s":243,"v":0.1},{"p":"-0.7","a":292.5,"b":337.5,"r":167,"s":243,"v":0.1},{"p":"-0.7","a":67.5,"b":112.5,"r":167,"s":243,"v":0.06},{"p":"-0.7","a":247.5,"b":292.5,"r":167,"s":243,"v":0.06},
{"p":"-0.7","a":-22.5,"b":22.5,"r":243,"s":383,"v":0},{"p":"-0.7","a":157.5,"b":202.5,"r":243,"s":383,"v":0},{"p":"-0.7","a":22.5,"b":67.5,"r":243,"s":383,"v":-0.18},{"p":"-0.7","a":112.5,"b":157.5,"r":243,"s":383,"v":-0.18},{"p":"-0.7","a":202.5,"b":247.5,"r":243,"s":383,"v":-0.18},{"p":"-0.7","a":292.5,"b":337.5,"r":243,"s":383,"v":-0.18},{"p":"-0.7","a":67.5,"b":112.5,"r":243,"s":383,"v":-0.35},{"p":"-0.7","a":247.5,"b":292.5,"r":243,"s":383,"v":-0.35}
],
"dv":[{"p":"-1.9"},{"p":"-1.5"},{"p":"-1.1"},{"p":"-0.7"}],
"cn":[{"p":"-0.7","R":383},{"p":"-0.7","R":3.7}],
"c1":[{"lo":-100,"hi":100}],
"c2":[{"lo":75,"hi":395}],
"c3":[{"lo":-1,"hi":1}]
},
"vconcat":[
{
"width":804,"height":188,
"layer":[
{"data":{"name":"vl"},"mark":{"type":"arc"},
"encoding":{
"x":{"field":"p","type":"nominal","bandPosition":0.5,"axis":null,"scale":{"type":"band","domain":["ref","-1.9","-1.5","-1.1","-0.7"],"range":[63.5,798.5],"paddingInner":0,"paddingOuter":0}},
"theta":{"field":"a","type":"quantitative","stack":null,"scale":{"domain":[0,360],"range":[0,6.283185307179586]}},
"theta2":{"field":"b"},
"radius":{"field":"r","type":"quantitative","scale":{"type":"log","domain":[3.7,383],"range":[6,68]}},
"radius2":{"field":"s"},
"color":{"field":"v","type":"quantitative","legend":null,"scale":{"type":"linear","interpolate":"rgb","clamp":true,"domain":[-100,-80,-60,-40,-20,-5,0,5,12,22,30,45,60,80,100],"range":["#2040f0","#3d5cf0","#7088f2","#a6b5f6","#d4dafa","#eff1fb","#fbfbf5","#fefde0","#fffaa6","#fcf455","#f8e24a","#f0b440","#e88a34","#dc5428","#d22a24"]}}
}},
{"data":{"name":"dv"},"mark":{"type":"rule","color":"#444444","strokeWidth":1},
"encoding":{
"x":{"field":"p","type":"nominal","bandPosition":0,"scale":{"type":"band","domain":["ref","-1.9","-1.5","-1.1","-0.7"],"range":[63.5,798.5],"paddingInner":0,"paddingOuter":0},
"axis":{"orient":"top","offset":-20,"values":["-1.9","-1.5","-1.1","-0.7"],"labelOffset":-69,"domain":false,"ticks":false,"grid":false,"labelAngle":0,"labelFont":"Liberation Sans, Arial, sans-serif","labelFontSize":13,"labelColor":"#000","labelPadding":2,
"title":"log Mₛₐₜ / Mₕₒₛₜ","titleFont":"Liberation Sans, Arial, sans-serif","titleFontSize":13,"titleFontWeight":"normal","titleColor":"#000","titleX":28,"titleY":-4,"titleAlign":"left","titleBaseline":"alphabetic","titleAngle":0}},
"y":{"datum":383,"type":"quantitative","axis":null,"scale":{"type":"log","domain":[3.7,383],"range":[88,26]}},
"y2":{"value":"height"}
}},
{"data":{"name":"cn"},"mark":{"type":"rule","color":"#444444","strokeWidth":1},
"encoding":{
"x":{"field":"p","type":"nominal","bandPosition":0.5,"axis":null,"scale":{"type":"band","domain":["ref","-1.9","-1.5","-1.1","-0.7"],"range":[63.5,798.5],"paddingInner":0,"paddingOuter":0}},
"x2":{"value":"width"},
"y":{"field":"R","type":"quantitative","scale":{"type":"log","domain":[3.7,383],"range":[88,26]},
"axis":{"orient":"right","values":[5,35,300],"format":"d","domain":true,"domainColor":"#444444","ticks":true,"tickColor":"#444444","tickSize":-8,"labelPadding":10,"grid":false,"labelFont":"Liberation Serif, Times New Roman, DejaVu Serif, serif","labelFontSize":12,"labelColor":"#000",
"title":"R / kpc","titleFont":"Liberation Serif, Times New Roman, DejaVu Serif, serif","titleFontSize":12,"titleFontWeight":"normal","titleColor":"#000","titleAngle":0,"titleX":-4,"titleY":15,"titleAlign":"center","titleBaseline":"alphabetic"}}
}},
{"data":{"name":"c1"},"mark":{"type":"rect","fill":{"gradient":"linear","x1":0,"y1":1,"x2":0,"y2":0,"stops":[{"offset":0,"color":"#2040f0"},{"offset":0.1,"color":"#3d5cf0"},{"offset":0.2,"color":"#7088f2"},{"offset":0.3,"color":"#a6b5f6"},{"offset":0.4,"color":"#d4dafa"},{"offset":0.475,"color":"#eff1fb"},{"offset":0.5,"color":"#fbfbf5"},{"offset":0.525,"color":"#fefde0"},{"offset":0.56,"color":"#fffaa6"},{"offset":0.61,"color":"#fcf455"},{"offset":0.65,"color":"#f8e24a"},{"offset":0.725,"color":"#f0b440"},{"offset":0.8,"color":"#e88a34"},{"offset":0.9,"color":"#dc5428"},{"offset":1,"color":"#d22a24"}]}},
"encoding":{
"x":{"datum":0,"type":"quantitative","axis":null,"scale":{"domain":[0,1],"range":[36,44]}},
"x2":{"datum":1},
"y":{"field":"lo","type":"quantitative","scale":{"domain":[-100,100],"range":[148,40]},
"axis":{"orient":"left","offset":-36,"values":[-100,100],"domain":false,"ticks":false,"grid":false,"labelAngle":-90,"labelAlign":"center","labelBaseline":"alphabetic","labelPadding":1,"labelFont":"Liberation Serif, Times New Roman, DejaVu Serif, serif","labelFontSize":13,"labelColor":"#000",
"title":"v LOS","titleFont":"Liberation Serif, Times New Roman, DejaVu Serif, serif","titleFontSize":13,"titleFontWeight":"normal","titleColor":"#000","titleAngle":-90,"titleX":-18,"titleY":90,"titleAlign":"center","titleBaseline":"alphabetic"}},
"y2":{"field":"hi"}
}}
],
"resolve":{"scale":{"x":"independent","y":"independent","color":"independent"}}
},
{
"width":804,"height":108,
"layer":[
{"data":{"name":"sg"},"mark":{"type":"arc"},
"encoding":{
"x":{"field":"p","type":"nominal","bandPosition":0.5,"axis":null,"scale":{"type":"band","domain":["ref","-1.9","-1.5","-1.1","-0.7"],"range":[63.5,798.5],"paddingInner":0,"paddingOuter":0}},
"theta":{"field":"a","type":"quantitative","stack":null,"scale":{"domain":[0,360],"range":[0,6.283185307179586]}},
"theta2":{"field":"b"},
"radius":{"field":"r","type":"quantitative","scale":{"type":"log","domain":[3.7,383],"range":[6,68]}},
"radius2":{"field":"s"},
"color":{"field":"v","type":"quantitative","legend":null,"scale":{"type":"linear","interpolate":"rgb","clamp":true,"domain":[75,107,139,171,203,227,235,243,254.2,270.2,283,307,331,363,395],"range":["#2040f0","#3d5cf0","#7088f2","#a6b5f6","#d4dafa","#eff1fb","#fbfbf5","#fefde0","#fffaa6","#fcf455","#f8e24a","#f0b440","#e88a34","#dc5428","#d22a24"]}}
}},
{"data":{"name":"dv"},"mark":{"type":"rule","color":"#444444","strokeWidth":1},
"encoding":{
"x":{"field":"p","type":"nominal","bandPosition":0,"axis":null,"scale":{"type":"band","domain":["ref","-1.9","-1.5","-1.1","-0.7"],"range":[63.5,798.5],"paddingInner":0,"paddingOuter":0}}
}},
{"data":{"name":"cn"},"mark":{"type":"rule","color":"#444444","strokeWidth":1},
"encoding":{
"x":{"field":"p","type":"nominal","bandPosition":0.5,"axis":null,"scale":{"type":"band","domain":["ref","-1.9","-1.5","-1.1","-0.7"],"range":[63.5,798.5],"paddingInner":0,"paddingOuter":0}},
"x2":{"value":"width"},
"y":{"field":"R","type":"quantitative","scale":{"type":"log","domain":[3.7,383],"range":[48,-14]},
"axis":{"orient":"right","values":[5,35,300],"format":"d","domain":true,"domainColor":"#444444","ticks":true,"tickColor":"#444444","tickSize":-8,"labelPadding":10,"grid":false,"labelFont":"Liberation Serif, Times New Roman, DejaVu Serif, serif","labelFontSize":12,"labelColor":"#000","title":null}}
}},
{"data":{"name":"c2"},"mark":{"type":"rect","fill":{"gradient":"linear","x1":0,"y1":1,"x2":0,"y2":0,"stops":[{"offset":0,"color":"#2040f0"},{"offset":0.1,"color":"#3d5cf0"},{"offset":0.2,"color":"#7088f2"},{"offset":0.3,"color":"#a6b5f6"},{"offset":0.4,"color":"#d4dafa"},{"offset":0.475,"color":"#eff1fb"},{"offset":0.5,"color":"#fbfbf5"},{"offset":0.525,"color":"#fefde0"},{"offset":0.56,"color":"#fffaa6"},{"offset":0.61,"color":"#fcf455"},{"offset":0.65,"color":"#f8e24a"},{"offset":0.725,"color":"#f0b440"},{"offset":0.8,"color":"#e88a34"},{"offset":0.9,"color":"#dc5428"},{"offset":1,"color":"#d22a24"}]}},
"encoding":{
"x":{"datum":0,"type":"quantitative","axis":null,"scale":{"domain":[0,1],"range":[36,44]}},
"x2":{"datum":1},
"y":{"field":"lo","type":"quantitative","scale":{"domain":[75,395],"range":[108,0]},
"axis":{"orient":"left","offset":-36,"values":[75,395],"domain":false,"ticks":false,"grid":false,"labelAngle":-90,"labelAlign":"center","labelBaseline":"alphabetic","labelPadding":1,"labelFont":"Liberation Serif, Times New Roman, DejaVu Serif, serif","labelFontSize":13,"labelColor":"#000",
"title":"σ LOS","titleFont":"Liberation Serif, Times New Roman, DejaVu Serif, serif","titleFontSize":13,"titleFontWeight":"normal","titleColor":"#000","titleAngle":-90,"titleX":-18,"titleY":52,"titleAlign":"center","titleBaseline":"alphabetic"}},
"y2":{"field":"hi"}
}}
],
"resolve":{"scale":{"x":"independent","y":"independent","color":"independent"}}
},
{
"width":804,"height":188,
"layer":[
{"data":{"name":"kp"},"mark":{"type":"arc"},
"encoding":{
"x":{"field":"p","type":"nominal","bandPosition":0.5,"axis":null,"scale":{"type":"band","domain":["ref","-1.9","-1.5","-1.1","-0.7"],"range":[63.5,798.5],"paddingInner":0,"paddingOuter":0}},
"theta":{"field":"a","type":"quantitative","stack":null,"scale":{"domain":[0,360],"range":[0,6.283185307179586]}},
"theta2":{"field":"b"},
"radius":{"field":"r","type":"quantitative","scale":{"type":"log","domain":[3.7,383],"range":[6,68]}},
"radius2":{"field":"s"},
"color":{"field":"v","type":"quantitative","legend":null,"scale":{"type":"linear","interpolate":"rgb","clamp":true,"domain":[-1,-0.75,-0.57,-0.4,-0.2,0,0.28,0.55,0.8,1],"range":["#002a00","#005a00","#00b800","#38e038","#b0f2b0","#e8e8e8","#fcaefc","#f040f0","#a01a8a","#401030"]}}
}},
{"data":{"name":"dv"},"mark":{"type":"rule","color":"#444444","strokeWidth":1},
"encoding":{
"x":{"field":"p","type":"nominal","bandPosition":0,"axis":null,"scale":{"type":"band","domain":["ref","-1.9","-1.5","-1.1","-0.7"],"range":[63.5,798.5],"paddingInner":0,"paddingOuter":0}}
}},
{"data":{"name":"cn"},"mark":{"type":"rule","color":"#444444","strokeWidth":1},
"encoding":{
"x":{"field":"p","type":"nominal","bandPosition":0.5,"axis":null,"scale":{"type":"band","domain":["ref","-1.9","-1.5","-1.1","-0.7"],"range":[63.5,798.5],"paddingInner":0,"paddingOuter":0}},
"x2":{"value":"width"},
"y":{"field":"R","type":"quantitative","scale":{"type":"log","domain":[3.7,383],"range":[88,26]},
"axis":{"orient":"right","values":[5,35,300],"format":"d","domain":true,"domainColor":"#444444","ticks":true,"tickColor":"#444444","tickSize":-8,"labelPadding":10,"grid":false,"labelFont":"Liberation Serif, Times New Roman, DejaVu Serif, serif","labelFontSize":12,"labelColor":"#000","title":null}}
}},
{"data":{"name":"c3"},"mark":{"type":"rect","fill":{"gradient":"linear","x1":0,"y1":1,"x2":0,"y2":0,"stops":[{"offset":0,"color":"#002a00"},{"offset":0.125,"color":"#005a00"},{"offset":0.215,"color":"#00b800"},{"offset":0.3,"color":"#38e038"},{"offset":0.4,"color":"#b0f2b0"},{"offset":0.5,"color":"#e8e8e8"},{"offset":0.64,"color":"#fcaefc"},{"offset":0.775,"color":"#f040f0"},{"offset":0.9,"color":"#a01a8a"},{"offset":1,"color":"#401030"}]}},
"encoding":{
"x":{"datum":0,"type":"quantitative","axis":null,"scale":{"domain":[0,1],"range":[36,44]}},
"x2":{"datum":1},
"y":{"field":"lo","type":"quantitative","scale":{"domain":[-1,1],"range":[148,40]},
"axis":{"orient":"left","offset":-36,"values":[-1,1],"domain":false,"ticks":false,"grid":false,"labelAngle":-90,"labelAlign":"center","labelBaseline":"alphabetic","labelPadding":1,"labelFont":"Liberation Serif, Times New Roman, DejaVu Serif, serif","labelFontSize":13,"labelColor":"#000",
"title":"κ","titleFont":"Liberation Serif, Times New Roman, DejaVu Serif, serif","titleFontSize":16,"titleFontStyle":"italic","titleFontWeight":"normal","titleColor":"#000","titleAngle":-90,"titleX":-18,"titleY":94,"titleAlign":"center","titleBaseline":"alphabetic"}},
"y2":{"field":"hi"}
}}
],
"resolve":{"scale":{"x":"independent","y":"independent","color":"independent"}}
}
]
}
